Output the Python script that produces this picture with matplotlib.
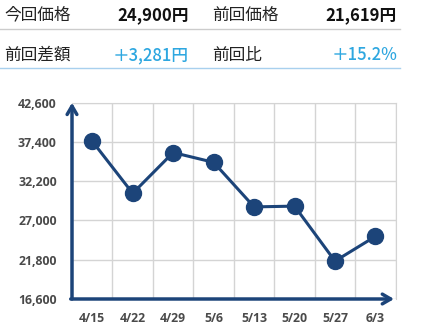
import matplotlib.pyplot as plt

plt.rcParams['font.family'] = ['Noto Sans CJK JP', 'DejaVu Sans']

# data
dates = ['4/15', '4/22', '4/29', '5/6', '5/13', '5/20', '5/27', '6/3']
prices = [37500, 30600, 36000, 34700, 28800, 28900, 21619, 24900]
yticks = [16600, 21800, 27000, 32200, 37400, 42600]

labels_row1 = ['今回価格', '24,900円', '前回価格', '21,619円']
labels_row2 = ['前回差額', '+3,281円', '前回比', '+15.2%']

navy = '#1c4479'
blue = '#2ea7e0'

fig = plt.figure(figsize=(4.28, 3.34), dpi=100)

# header table
W, H = 428, 334
def fx(px):
    return px / W
def fy(py):
    return 1 - py / H

fs = 12
fig.text(fx(4), fy(15), labels_row1[0], fontsize=fs, va='center', color='#222')
fig.text(fx(189), fy(15), labels_row1[1], fontsize=fs, va='center', ha='right', weight='bold', color='#111')
fig.text(fx(212), fy(15), labels_row1[2], fontsize=fs, va='center', color='#222')
fig.text(fx(397), fy(15), labels_row1[3], fontsize=fs, va='center', ha='right', weight='bold', color='#111')
fig.text(fx(4), fy(55), labels_row2[0], fontsize=fs, va='center', color='#222')
fig.text(fx(189), fy(55), labels_row2[1].replace('+', '＋'), fontsize=fs, va='center', ha='right',
         color=blue, weight='medium')
fig.text(fx(212), fy(55), labels_row2[2], fontsize=fs, va='center', color='#222')
fig.text(fx(397), fy(55), labels_row2[3].replace('+', '＋'), fontsize=fs, va='center', ha='right',
         color=blue, weight='medium')
fig.add_artist(plt.Line2D([0, fx(400)], [fy(29), fy(29)], color='#cccccc', lw=1))
fig.add_artist(plt.Line2D([0, fx(400)], [fy(68), fy(68)], color='#a8d0ee', lw=1))

# chart
ax = fig.add_axes([72 / W, 1 - 299 / H, (395.7 - 72) / W, (299 - 102.7) / H])
x = [i + 0.5 for i in range(len(dates))]
ax.plot(x, prices, color=navy, lw=2.2, marker='o', markersize=11.5, zorder=3, clip_on=False)
ax.set_xlim(0, len(dates))
ax.set_ylim(yticks[0], yticks[-1])
ax.set_yticks(yticks)
ax.set_yticklabels([f'{v:,}' for v in yticks])
ax.set_xticks(x)
ax.set_xticklabels(dates)
ax.set_xticks(range(len(dates) + 1), minor=True)
ax.grid(False)
ax.grid(True, which='minor', axis='x', color='#d4d4d4', lw=1)
ax.grid(True, which='major', axis='y', color='#d4d4d4', lw=1)
for s in ['top', 'right']:
    ax.spines[s].set_color('#d4d4d4')
for s in ['left', 'bottom']:
    ax.spines[s].set_visible(False)
ax.tick_params(which='both', length=0)
ax.tick_params(axis='y', pad=11)
ax.tick_params(axis='x', pad=9)
for t in ax.get_xticklabels() + ax.get_yticklabels():
    t.set_fontsize(8.8)
    t.set_color('#4a4a4a')
    t.set_fontweight('bold')
    t.set_family(['Open Sans', 'DejaVu Sans'])

# axis arrows
ax.annotate('', xy=(0, 1.0), xytext=(0, 0), xycoords='axes fraction',
            arrowprops=dict(arrowstyle='->,head_length=0.6,head_width=0.35', color=navy, lw=2.5,
                            shrinkA=0, shrinkB=0))
ax.annotate('', xy=(0.995, 0), xytext=(-0.004, 0), xycoords='axes fraction',
            arrowprops=dict(arrowstyle='->,head_length=0.6,head_width=0.35', color=navy, lw=2.5,
                            shrinkA=0, shrinkB=0))

fig.savefig('out.png', dpi=100)
